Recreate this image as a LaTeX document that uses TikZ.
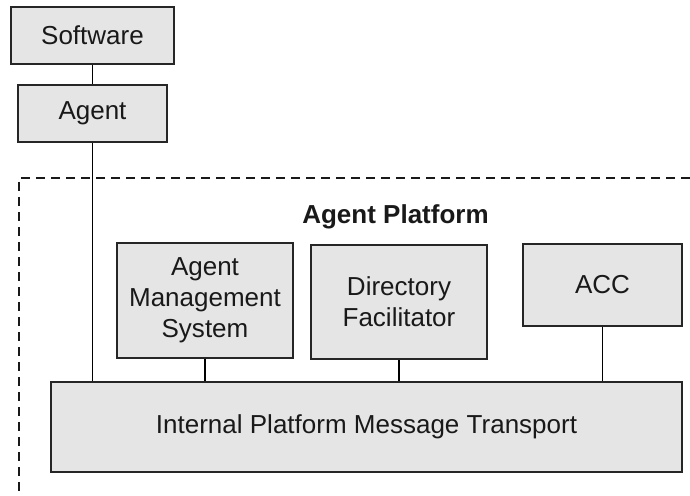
\documentclass[tikz,border=0pt]{standalone}
\usepackage{fontspec}
\setmainfont{Liberation Sans}
\usetikzlibrary{positioning}

\begin{document}
\begin{tikzpicture}[
  line cap=butt, line join=miter,
  box/.style={draw=black!85, line width=0.9pt, fill=black!10, align=center,
              inner sep=0pt, text=black!90,
              font=\fontsize{14.8}{17.6}\selectfont},
  wire/.style={black, line width=0.9pt},
  border/.style={black!90, line width=0.9pt, dash pattern=on 0.18cm off 0.12cm}
]

  % fixed frame of the picture
  \useasboundingbox (0,0) rectangle (13.8,-9.9);

  % ── Outside the platform ─────────────────────────────────────────────────
  \node[box, minimum width=3.26cm, minimum height=1.14cm] (soft)  at (1.85,-0.71)
      {Software};
  \node[box, minimum width=2.98cm, minimum height=1.14cm] (agent) at (1.85,-2.27)
      {Agent};

  % ── Agent platform (dashed, runs off the right and bottom edges) ─────────
  \coordinate (corner) at (0.38,-3.56);
  \draw[border] (13.8,-3.56) -- (corner) -- (0.38,-9.9);

  \node[font=\fontsize{14.8}{17.6}\selectfont\bfseries, anchor=base, text=black!90]
      (title) at (7.91,-4.46) {Agent Platform};

  \node[box, minimum width=3.52cm, minimum height=2.30cm] (ams) at (4.10,-6.01)
      {Agent\\Management\\System};
  \node[box, minimum width=3.52cm, minimum height=2.28cm] (df)  at (7.98,-6.04)
      {Directory\\Facilitator};
  \node[box, minimum width=3.18cm, minimum height=1.64cm] (acc) at (12.05,-5.70)
      {ACC};

  \node[box, minimum width=12.62cm, minimum height=1.80cm] (ipmt) at (7.33,-8.54)
      {Internal Platform Message Transport};

  % ── Connections ──────────────────────────────────────────────────────────
  \draw[wire] (soft.south) -- (agent.north);
  \draw[wire] (agent.south) -- (agent.south |- ipmt.north);
  \draw[wire] (ams.south) -- (ams.south |- ipmt.north);
  \draw[wire] (df.south) -- (df.south |- ipmt.north);
  \draw[wire] (acc.south) -- (acc.south |- ipmt.north);

\end{tikzpicture}
\end{document}
